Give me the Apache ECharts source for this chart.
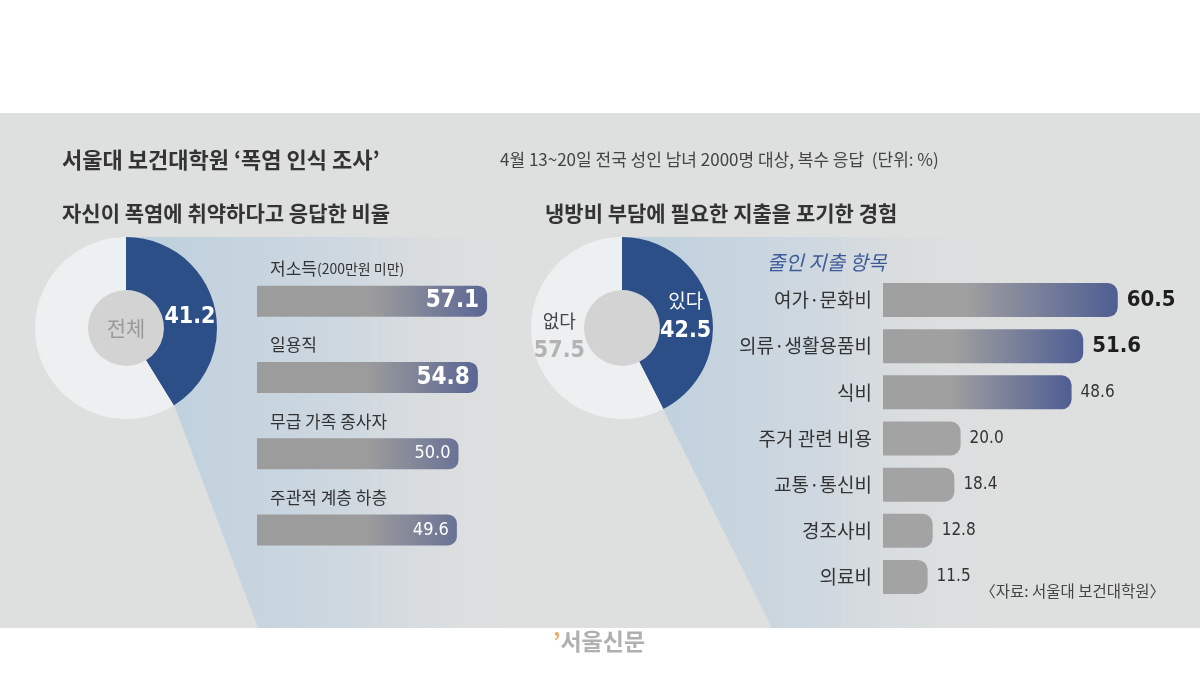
<!DOCTYPE html>
<html><head><meta charset="utf-8">
<script src="https://cdn.jsdelivr.net/npm/echarts@6/dist/echarts.min.js"></script>
<style>html,body{margin:0;padding:0;background:#fff}#c{width:1200px;height:684px}</style>
</head><body><div id="c"></div>
<script>
const leftCats = ['저소득(200만원 미만)', '일용직', '무급 가족 종사자', '주관적 계층 하층'];
const leftVals = [57.1, 54.8, 50.0, 49.6];
const rightCats = ['여가·문화비', '의류·생활용품비', '식비', '주거 관련 비용', '교통·통신비', '경조사비', '의료비'];
const rightVals = [60.5, 51.6, 48.6, 20.0, 18.4, 12.8, 11.5];
const leftPieNames = ['취약', '기타'];
const leftPieVals = [41.2, 58.8];
const rightPieNames = ['있다', '없다'];
const rightPieVals = [42.5, 57.5];

const KR = '"Noto Sans CJK KR", "Noto Sans", sans-serif';
const NUM = '"Liberation Sans Narrow", "DejaVu Sans Condensed", "Roboto", sans-serif';
const chart = echarts.init(document.getElementById('c'));

function grad(c0, mid, c1) {
  return new echarts.graphic.LinearGradient(0, 0, 1, 0, [
    {offset: 0, color: c0}, {offset: mid, color: c0}, {offset: 1, color: c1}]);
}

const leftData = leftVals.map((v, i) => ({
  value: v,
  itemStyle: {color: grad('#9c9c9c', i < 2 ? 0.5 : 0.55, i < 2 ? '#5a6694' : '#6a7396')},
  label: i < 2 ? {fontSize: 24, fontWeight: 'bold'} : {fontSize: 18, fontWeight: 'normal'}
}));
const rightData = rightVals.map((v, i) => ({
  value: v,
  itemStyle: {color: i < 3 ? grad('#a0a0a0', 0.35, '#4f5e93') : '#a3a3a3'},
  label: i < 2 ? {fontSize: 22, fontWeight: 'bold', color: '#1e1e1e'} : {fontSize: 17, fontWeight: 'normal', color: '#333'}
}));

const option = {
  animation: false,
  backgroundColor: '#ffffff',
  graphic: [
    {type: 'rect', z: -10, silent: true, shape: {x: 0, y: 113, width: 1200, height: 515}, style: {fill: '#dedfdf'}},
    {type: 'polygon', z: -5, silent: true,
      shape: {points: [[126, 237], [525, 237], [525, 628], [258, 628], [174, 405]]},
      style: {fill: new echarts.graphic.LinearGradient(0, 0, 1, 0, [
        {offset: 0, color: '#bccfdd'}, {offset: 0.55, color: 'rgba(200,213,224,0.75)'}, {offset: 1, color: 'rgba(222,223,223,0)'}])}},
    {type: 'polygon', z: -5, silent: true,
      shape: {points: [[622, 237], [1010, 237], [1010, 628], [772, 628], [663, 409]]},
      style: {fill: new echarts.graphic.LinearGradient(0, 0, 1, 0, [
        {offset: 0, color: '#bccfdd'}, {offset: 0.5, color: 'rgba(200,213,224,0.7)'}, {offset: 1, color: 'rgba(222,223,223,0)'}])}},
    {type: 'circle', z: -1, silent: true, shape: {cx: 126, cy: 328, r: 38}, style: {fill: '#d3d3d3'}},
    {type: 'circle', z: -1, silent: true, shape: {cx: 622, cy: 328, r: 38}, style: {fill: '#d3d3d3'}},
    {type: 'text', z: 10, style: {text: '서울대 보건대학원 ‘폭염 인식 조사’', x: 62, y: 160, font: 'bold 22px ' + KR, fill: '#333', textVerticalAlign: 'middle'}},
    {type: 'text', z: 10, style: {text: '4월 13~20일 전국 성인 남녀 2000명 대상, 복수 응답  (단위: %)', x: 500, y: 160, font: '17px ' + KR, fill: '#444', textVerticalAlign: 'middle'}},
    {type: 'text', z: 10, style: {text: '자신이 폭염에 취약하다고 응답한 비율', x: 62, y: 213, font: 'bold 21px ' + KR, fill: '#333', textVerticalAlign: 'middle'}},
    {type: 'text', z: 10, style: {text: '냉방비 부담에 필요한 지출을 포기한 경험', x: 545, y: 213, font: 'bold 21px ' + KR, fill: '#333', textVerticalAlign: 'middle'}},
    {type: 'text', z: 10, style: {text: '전체', x: 126, y: 328, font: '21px ' + KR, fill: '#9a9a9a', textAlign: 'center', textVerticalAlign: 'middle'}},
    {type: 'text', z: 10, style: {text: '줄인 지출 항목', x: 767, y: 262, font: 'italic 20px ' + KR, fill: '#3d5a99', textVerticalAlign: 'middle'}},
    {type: 'text', z: 10, style: {text: '〈자료: 서울대 보건대학원〉', x: 1165, y: 591, font: '15.5px ' + KR, fill: '#444', textAlign: 'right', textVerticalAlign: 'middle'}},
    {type: 'text', z: 10, style: {
      text: '{o|’}{g|서울신문}', x: 599, y: 641, textAlign: 'center', textVerticalAlign: 'middle',
      rich: {o: {fontSize: 23, fontWeight: 'bold', fill: '#f0a868', fontFamily: KR}, g: {fontSize: 23, fontWeight: 'bold', fill: '#b0b0b0', fontFamily: KR}}}}
  ],
  grid: [
    {left: 257, top: 263, width: 60 * 4.03, height: 305},
    {left: 883, top: 277, width: 70 * 3.88, height: 323}
  ],
  xAxis: [
    {gridIndex: 0, type: 'value', min: 0, max: 60, show: false},
    {gridIndex: 1, type: 'value', min: 0, max: 70, show: false}
  ],
  yAxis: [
    {gridIndex: 0, type: 'category', data: leftCats, inverse: true,
      axisLine: {show: false}, axisTick: {show: false},
      axisLabel: {inside: true, margin: 13, color: '#333', fontSize: 17, fontFamily: KR,
        verticalAlign: 'bottom', padding: [0, 0, 24, 0],
        formatter: function (v) {
          const m = v.indexOf('(');
          if (m > 0) return '{a|' + v.slice(0, m) + '}{b|' + v.slice(m) + '}';
          return '{a|' + v + '}';
        },
        rich: {a: {fontSize: 17, fontFamily: KR, color: '#333'}, b: {fontSize: 14, fontFamily: KR, color: '#333'}}}},
    {gridIndex: 1, type: 'category', data: rightCats, inverse: true,
      axisLine: {show: false}, axisTick: {show: false},
      axisLabel: {margin: 11, color: '#333', fontSize: 19, fontFamily: KR}}
  ],
  series: [
    {type: 'pie', center: [126, 328], radius: [38, 91], startAngle: 90, clockwise: true, silent: true,
      data: leftPieVals.map((v, i) => ({name: leftPieNames[i], value: v,
        itemStyle: {color: i === 0 ? '#2c4f88' : '#eeeff0'},
        label: i === 0 ? {show: true, position: 'inside', formatter: '{c}', color: '#fff', fontSize: 23, fontWeight: 'bold', fontFamily: NUM, offset: [-1, 7]} : {show: false}})),
      labelLine: {show: false}},
    {type: 'pie', center: [622, 328], radius: [38, 91], startAngle: 90, clockwise: true, silent: true,
      data: rightPieVals.map((v, i) => ({name: rightPieNames[i], value: v,
        itemStyle: {color: i === 0 ? '#2c4f88' : '#eeeff0'},
        label: {show: true, position: 'inside', formatter: '{n|{b}}\n{v|{c}}', offset: i === 0 ? [-2, 4] : [3, -8],
          rich: i === 0
            ? {n: {color: '#fff', fontSize: 19, fontFamily: KR, lineHeight: 30}, v: {color: '#fff', fontSize: 23, fontWeight: 'bold', fontFamily: NUM, lineHeight: 30}}
            : {n: {color: '#444', fontSize: 18, fontFamily: KR, lineHeight: 30}, v: {color: '#b3b3b3', fontSize: 23, fontWeight: 'bold', fontFamily: NUM, lineHeight: 30}}}})),
      labelLine: {show: false}},
    {type: 'bar', xAxisIndex: 0, yAxisIndex: 0, data: leftData, barWidth: 31,
      itemStyle: {borderRadius: [0, 9, 9, 0]},
      label: {show: true, position: 'insideRight', distance: 8, color: '#fff', fontFamily: NUM, formatter: p => p.value.toFixed(1)}},
    {type: 'bar', xAxisIndex: 1, yAxisIndex: 1, data: rightData, barWidth: 34,
      itemStyle: {borderRadius: [0, 10, 10, 0]},
      label: {show: true, position: 'right', distance: 9, fontFamily: NUM, formatter: p => p.value.toFixed(1)}}
  ]
};
chart.setOption(option);
</script></body></html>
